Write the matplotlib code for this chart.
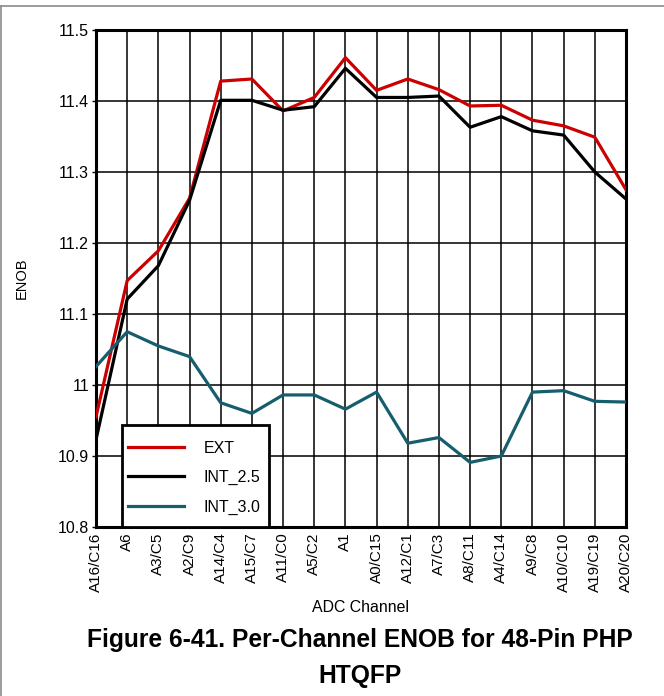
import matplotlib
matplotlib.use("Agg")
import matplotlib.pyplot as plt
from matplotlib.lines import Line2D
from matplotlib.patches import Rectangle
from matplotlib.ticker import FuncFormatter

plt.rcParams['font.family'] = ['Liberation Sans', 'DejaVu Sans']

channels = ['A16/C16', 'A6', 'A3/C5', 'A2/C9', 'A14/C4', 'A15/C7', 'A11/C0', 'A5/C2', 'A1',
            'A0/C15', 'A12/C1', 'A7/C3', 'A8/C11', 'A4/C14', 'A9/C8', 'A10/C10', 'A19/C19', 'A20/C20']

enob_ext = [10.955, 11.147, 11.189, 11.263, 11.428, 11.431, 11.386, 11.405, 11.461,
            11.415, 11.431, 11.416, 11.393, 11.394, 11.373, 11.365, 11.349, 11.275]
enob_int25 = [10.923, 11.121, 11.168, 11.260, 11.401, 11.401, 11.387, 11.392, 11.446,
              11.405, 11.405, 11.407, 11.363, 11.378, 11.358, 11.352, 11.300, 11.262]
enob_int30 = [11.026, 11.075, 11.055, 11.040, 10.975, 10.960, 10.986, 10.986, 10.966,
              10.990, 10.918, 10.926, 10.891, 10.900, 10.990, 10.992, 10.977, 10.976]

W, H = 664, 696
AW, AH = 530, 497
fig = plt.figure(figsize=(W / 100, H / 100), dpi=100)
ax = fig.add_axes([96 / W, 1 - 527 / H, AW / W, AH / H])

x = range(len(channels))
ax.plot(x, enob_ext, color='#cc0000', lw=2.3, label='EXT', zorder=3)
ax.plot(x, enob_int25, color='black', lw=2.3, label='INT_2.5', zorder=3)
ax.plot(x, enob_int30, color='#165e6e', lw=2.3, label='INT_3.0', zorder=3)

ax.set_xlim(0, len(channels) - 1)
ax.set_ylim(10.8, 11.5)
ax.set_xticks(list(x))
ax.set_xticklabels(channels, rotation=90, fontsize=11)
ax.set_yticks([10.8 + 0.1 * i for i in range(8)])
ax.yaxis.set_major_formatter(FuncFormatter(lambda v, p: f"{round(v, 2):g}"))
ax.tick_params(axis='y', labelsize=11.5, length=3, width=1, pad=2)
ax.tick_params(axis='x', length=0, pad=4)
ax.grid(True, color='black', lw=1.1)
ax.set_axisbelow(True)
for s in ax.spines.values():
    s.set_linewidth(2.2)

ax.set_xlabel('ADC Channel', fontsize=11.4, va='center')
ax.xaxis.set_label_coords(0.5, -80 / AH)
ax.set_ylabel('ENOB', fontsize=10.5, va='center')
ax.yaxis.set_label_coords(-74 / AW, 0.5)

# legend box drawn separately so the padding can differ per side
ax.add_patch(Rectangle((26 / AW, 0), 147 / AW, 102 / AH, transform=ax.transAxes,
                       facecolor='white', edgecolor='black', lw=2.0, zorder=4,
                       clip_on=False))
leg = ax.legend(loc='lower left', bbox_to_anchor=(20 / AW, 0), fontsize=11.5,
                handlelength=3.5, handletextpad=1.2, labelspacing=0.9,
                borderpad=0.78, borderaxespad=0, frameon=False)
leg.set_zorder(5)

fig.text(360 / W, 1 - 640 / H, 'Figure 6-41. Per-Channel ENOB for 48-Pin PHP',
         ha='center', va='center', fontsize=17.7, fontweight='bold')
fig.text(360 / W, 1 - 676 / H, 'HTQFP', ha='center', va='center',
         fontsize=17.7, fontweight='bold')

# thin frame around the figure
fig.add_artist(Line2D([1 / W, 1], [1 - 6 / H, 1 - 6 / H], transform=fig.transFigure,
                      color='#8a8a8a', lw=1.2))
fig.add_artist(Line2D([1 / W, 1 / W], [0, 1 - 6 / H], transform=fig.transFigure,
                      color='#8a8a8a', lw=1.2))

fig.savefig('out.png', dpi=100)
